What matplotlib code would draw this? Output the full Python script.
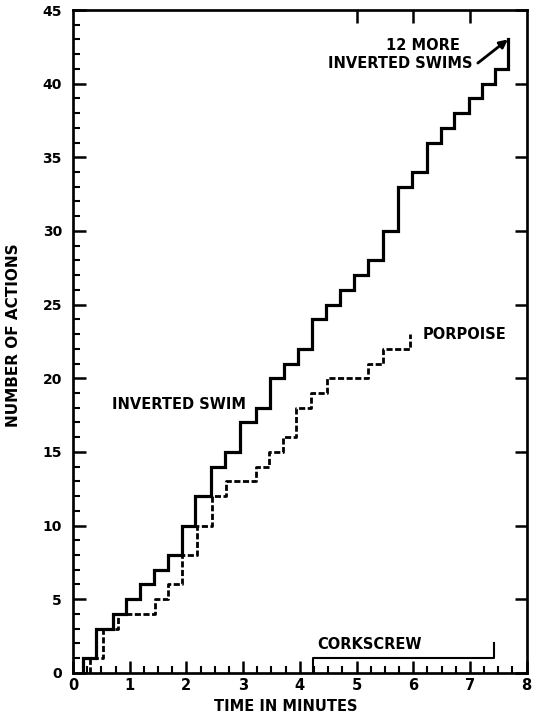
import matplotlib
matplotlib.use("Agg")
import matplotlib.pyplot as plt

# step times (minutes) and cumulative counts after each step
swim_t = [0.17, 0.17, 0.40, 0.70, 0.94, 1.18, 1.42, 1.68, 1.92, 2.15, 2.43, 2.68, 2.95,
          3.22, 3.47, 3.72, 3.97, 4.22, 4.46, 4.71, 4.96, 5.21, 5.47, 5.74, 5.97,
          6.25, 6.49, 6.72, 6.98, 7.21, 7.44, 7.67]
swim_n = [0, 1, 3, 4, 5, 6, 7, 8, 10, 12, 14, 15, 17,
          18, 20, 21, 22, 24, 25, 26, 27, 28, 30, 33, 34,
          36, 37, 38, 39, 40, 41, 43]

porp_t = [0.30, 0.30, 0.53, 0.80, 1.44, 1.67, 1.92, 2.18, 2.45, 2.70, 3.22, 3.46,
          3.70, 3.93, 4.20, 4.48, 5.20, 5.46, 5.94]
porp_n = [0, 1, 3, 4, 5, 6, 8, 10, 12, 13, 14, 15,
          16, 18, 19, 20, 21, 22, 23]

cork_t = [4.23, 4.23, 7.43]
cork_n = [0, 1, 2]

xticks = [0, 1, 2, 3, 4, 5, 6, 7, 8]
yticks = [0, 5, 10, 15, 20, 25, 30, 35, 40, 45]

fig = plt.figure(figsize=(5.33, 7.15), dpi=100)
ax = fig.add_axes([0.137, 0.059, 0.851, 0.927])

ax.plot(swim_t, swim_n, drawstyle="steps-post", color="black", lw=2.3,
        solid_joinstyle="miter")
ax.plot(porp_t, porp_n, drawstyle="steps-post", color="black", lw=2.0,
        linestyle=(0, (2.2, 0.9)))
ax.plot(cork_t, cork_n, drawstyle="steps-post", color="black", lw=1.5)

ax.set_xlim(0, 8)
ax.set_ylim(0, 45)

bold = dict(fontweight="bold", fontsize=10.5, color="black")
ax.text(0.68, 18.2, "INVERTED SWIM", va="center", ha="left", **bold)
ax.text(6.16, 23.0, "PORPOISE", va="center", ha="left", **bold)
ax.text(4.3, 1.9, "CORKSCREW", va="center", ha="left", **bold)
ax.text(6.18, 42.6, "12 MORE", va="center", ha="center", **bold)
ax.text(5.77, 41.4, "INVERTED SWIMS", va="center", ha="center", **bold)
ax.annotate("", xy=(7.67, 43.0), xytext=(7.14, 41.4),
            arrowprops=dict(arrowstyle="-|>", color="black", lw=2.0,
                            mutation_scale=12, shrinkA=0, shrinkB=0))

for s in ax.spines.values():
    s.set_linewidth(1.9)

ax.set_xticks(xticks)
ax.set_xticks([i * 0.25 for i in range(33)], minor=True)
ax.set_yticks(yticks)
ax.set_yticks(range(46), minor=True)
ax.set_xticklabels([str(v) for v in xticks], fontweight="bold", fontsize=10.5)
ax.set_yticklabels([str(v) for v in yticks], fontweight="bold", fontsize=10)
ax.tick_params(axis="both", which="major", direction="in", length=9, width=1.8, pad=4)
ax.tick_params(axis="both", which="minor", direction="in", length=5, width=1.5)
ax.tick_params(axis="y", which="major", pad=8)

# right and top ticks drawn on twin axes
axr = ax.twinx()
axr.set_ylim(0, 45)
axr.set_yticks(yticks)
axr.set_yticklabels([])
axr.tick_params(axis="y", direction="in", length=9, width=1.8)
axt = ax.twiny()
axt.set_xlim(0, 8)
axt.set_xticks([5, 6, 7])
axt.set_xticklabels([])
axt.tick_params(axis="x", direction="in", length=9, width=1.8)

ax.set_xlabel("TIME IN MINUTES", fontweight="bold", fontsize=10.5)
ax.set_ylabel("NUMBER OF ACTIONS", fontweight="bold", fontsize=11)
ax.xaxis.set_label_coords(0.47, -0.04)
ax.yaxis.set_label_coords(-0.115, 0.51)

fig.savefig("out.png", dpi=100)
